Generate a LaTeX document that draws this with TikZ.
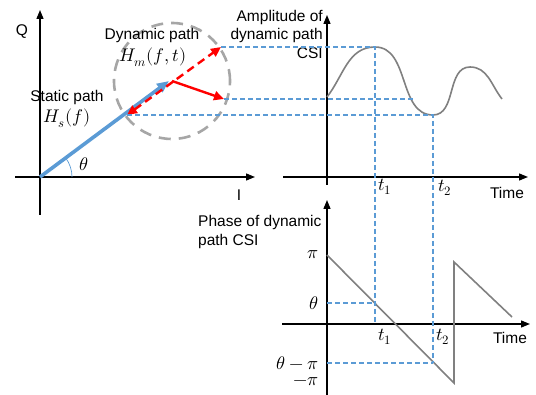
\documentclass[tikz,border=0pt]{standalone}
\usepackage{fontspec}
\usepackage{unicode-math}
\setmainfont{Liberation Sans}
\setmathfont{Latin Modern Math}[Scale=1.18]
\usetikzlibrary{arrows.meta}
\definecolor{csiblue}{RGB}{91,155,213}
\definecolor{csigray}{RGB}{128,128,128}
\definecolor{ringgray}{RGB}{166,166,166}

\begin{document}
\begin{tikzpicture}[x=1pt, y=1pt, font=\fontsize{15.5}{18.5}\selectfont,
    axis/.style={-{Triangle[length=9pt,width=7pt]}, line width=1.3pt},
    guide/.style={csiblue, line width=1.2pt, dash pattern=on 5pt off 3pt},
    wave/.style={csigray, line width=1.6pt},
    lbl/.style={inner sep=1pt}]
  \useasboundingbox (0,0) rectangle (536,-395);

  % I/Q plane
  \coordinate (o) at (40,-177);
  \coordinate (qbot) at (40,-215);
  \coordinate (qtop) at (40,-10);
  \coordinate (iL) at (15,-177);
  \coordinate (iR) at (255,-177);
  \draw[axis] (qbot) -- (qtop);
  \draw[axis] (iL) -- (iR);
  \node[lbl] (qlab) at (22,-32) {Q};
  \node[lbl] (ilab) at (239,-195) {I};

  \coordinate (hsend) at (169,-81);
  \coordinate (mid) at (172,-81);
  \coordinate (far) at (221,-47);
  \coordinate (near) at (127,-115);
  \coordinate (side) at (224,-99);
  \draw[ringgray, line width=2.6pt, dash pattern=on 12pt off 8pt] (mid) circle[radius=58];
  \draw[csiblue, line width=0.7pt] (72,-177) arc[start angle=0, end angle=37, radius=32];
  \draw[-{Triangle[length=12pt,width=10pt]}, csiblue, line width=3.6pt] (o) -- (hsend);
  \draw[{Triangle[length=10pt,width=9pt]}-{Triangle[length=10pt,width=9pt]}, red, line width=2.4pt,
        dash pattern=on 8pt off 5pt] (near) -- (far);
  \draw[-{Triangle[length=10pt,width=9pt]}, red, line width=2.4pt] (mid) -- (side);

  \node[lbl] (stat) at (67,-97) {Static path};
  \node[lbl] (hs) at (67,-118) {$H_s(f)$};
  \node[lbl] (dyn) at (152,-35) {Dynamic path};
  \node[lbl] (hm) at (153,-57) {$H_m(f,t)$};
  \node[lbl] (th) at (84,-164) {$\theta$};

  % amplitude
  \coordinate (abot) at (327,-185);
  \coordinate (atop) at (327,-15);
  \coordinate (aL) at (283,-177);
  \coordinate (aR) at (528,-177);
  \draw[axis] (abot) -- (atop);
  \draw[axis] (aL) -- (aR);
  \node[lbl, align=right, anchor=east] (amp) at (324,-34) {Amplitude of\\dynamic path\\CSI};

  \coordinate (a0) at (327,-97);
  \coordinate (pk1) at (375,-47);
  \coordinate (tr1) at (433,-115);
  \coordinate (pk2) at (470,-67);
  \coordinate (a1) at (502,-99);
  \coordinate (cut) at (413,-99);
  \draw[wave] (a0) to[out=52,in=180] (pk1) to[out=0,in=180] (tr1)
              to[out=0,in=180] (pk2) to[out=0,in=128] (a1);

  \node[lbl] (t1a) at (385,-187) {$t_1$};
  \node[lbl] (t2a) at (445,-188) {$t_2$};
  \node[lbl] (timea) at (507,-193) {Time};

  % phase
  \coordinate (pbot) at (327,-395);
  \coordinate (ptop) at (327,-200);
  \coordinate (pL) at (282,-324);
  \coordinate (pR) at (530,-324);
  \draw[axis] (pbot) -- (ptop);
  \draw[axis] (pL) -- (pR);
  \node[lbl, align=left, anchor=west] (phs) at (197,-232) {Phase of dynamic\\path CSI};

  \coordinate (p0) at (327,-255);
  \coordinate (plow) at (454,-383);
  \coordinate (phigh) at (454,-262);
  \coordinate (p1) at (512,-317);
  \draw[wave] (p0) -- (plow) -- (phigh) -- (p1);

  \coordinate (pth) at (375,-303);
  \coordinate (t1b) at (375,-324);
  \coordinate (pthpi) at (433,-363);
  \coordinate (yth) at (327,-303);
  \coordinate (ythpi) at (327,-363);
  \node[lbl, anchor=east] (pi) at (320,-255) {$\pi$};
  \node[lbl, anchor=east] (thl) at (320,-303) {$\theta$};
  \node[lbl, anchor=east] (thpi) at (320,-363) {$\theta-\pi$};
  \node[lbl, anchor=east] (mpi) at (320,-382) {$-\pi$};
  \node[lbl] (t1c) at (385,-337) {$t_1$};
  \node[lbl] (t2c) at (443,-337) {$t_2$};
  \node[lbl] (timeb) at (510,-338) {Time};

  % guides
  \draw[guide] (far) -- (pk1) -- (t1b);
  \draw[guide] (side) -- (cut);
  \draw[guide] (near) -- (tr1) -- (pthpi);
  \draw[guide] (yth) -- (pth);
  \draw[guide] (ythpi) -- (pthpi);
\end{tikzpicture}
\end{document}
